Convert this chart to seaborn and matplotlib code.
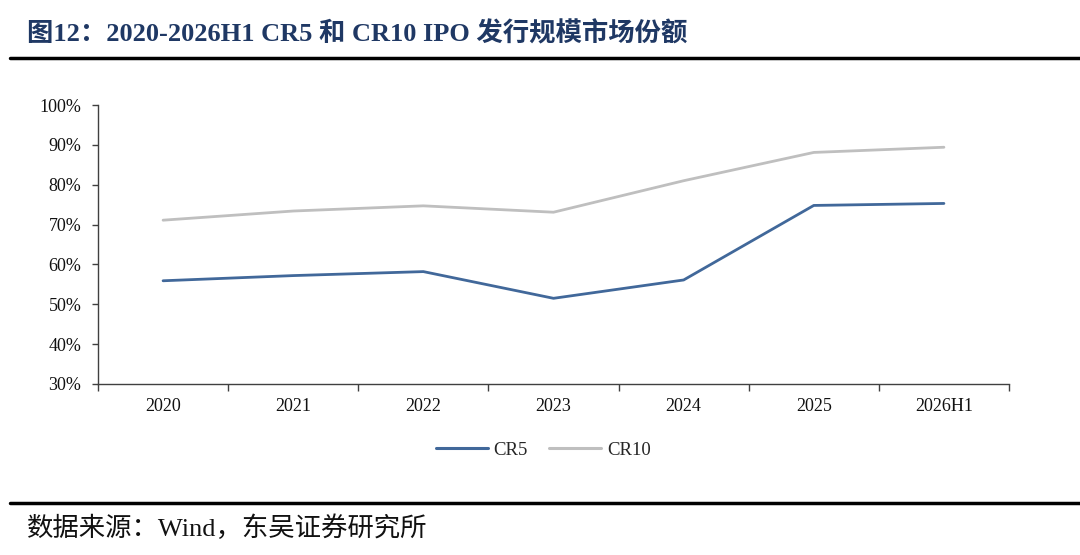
import pandas as pd
import seaborn as sns
import matplotlib.pyplot as plt
from matplotlib.lines import Line2D
from matplotlib.ticker import FixedLocator, PercentFormatter

# Data
years = ['2020', '2021', '2022', '2023', '2024', '2025', '2026H1']
cr5 = [55.9, 57.2, 58.2, 51.5, 56.1, 74.8, 75.3]
cr10 = [71.1, 73.4, 74.7, 73.1, 81.0, 88.1, 89.4]

df = pd.DataFrame({
    'year': years * 2,
    'share': cr5 + cr10,
    'series': ['CR5'] * len(years) + ['CR10'] * len(years),
})

sns.set_style('white')
plt.rcParams['font.family'] = ['Liberation Serif', 'Noto Sans CJK SC']

fig = plt.figure(figsize=(10.8, 5.55), dpi=100)
ax = fig.add_axes([98 / 1080, 1 - 384 / 555, (1009 - 98) / 1080, (384 - 105) / 555])

palette = {'CR5': '#41689a', 'CR10': '#bfbfbf'}
sns.lineplot(data=df, x='year', y='share', hue='series', palette=palette,
             linewidth=2.0, sort=False, legend=False, ax=ax)

ax.set_xlim(-0.5, len(years) - 0.5)
ax.set_ylim(30, 100)
ax.set_yticks(range(30, 101, 10))
ax.yaxis.set_major_formatter(PercentFormatter(decimals=0))
ax.set_xticks(range(len(years)))
ax.set_xticklabels(years)
ax.xaxis.set_minor_locator(FixedLocator([i - 0.5 for i in range(len(years) + 1)]))
ax.tick_params(axis='x', which='major', bottom=True, length=0, pad=10, labelsize=13,
               colors='#111111')
ax.tick_params(axis='x', which='minor', bottom=True, length=5, width=1, color='#404040',
               direction='out')
ax.tick_params(axis='y', left=True, length=4, width=1, color='#404040', direction='out',
               labelsize=13, labelcolor='#111111', pad=8)
ax.set_xlabel('')
ax.set_ylabel('')
sns.despine(ax=ax)
for s in ['left', 'bottom']:
    ax.spines[s].set_color('#404040')
    ax.spines[s].set_linewidth(1.0)

# Legend below the plot
handles = [Line2D([0], [0], color=palette['CR5'], lw=2.2),
           Line2D([0], [0], color=palette['CR10'], lw=2.2)]
fig.legend(handles, ['CR5', 'CR10'], loc='center', bbox_to_anchor=(543 / 1080, 1 - 450 / 555),
           ncol=2, frameon=False, fontsize=13.5, handlelength=2.8, columnspacing=1.1,
           handletextpad=0.3)

# Title, rules and source note
fig.text(27 / 1080, 1 - 34 / 555, '图12：2020-2026H1 CR5 和 CR10 IPO 发行规模市场份额',
         fontsize=19, fontweight='bold', color='#1f3864', va='center', ha='left')
fig.add_artist(Line2D([10 / 1080, 1], [1 - 58 / 555] * 2, color='black', lw=2.5))
fig.add_artist(Line2D([10 / 1080, 1], [1 - 503 / 555] * 2, color='black', lw=2.5))
fig.text(27 / 1080, 1 - 528 / 555, '数据来源：Wind，东吴证券研究所',
         fontsize=19, color='#111111', va='center', ha='left')

fig.savefig('out.png', dpi=100)
